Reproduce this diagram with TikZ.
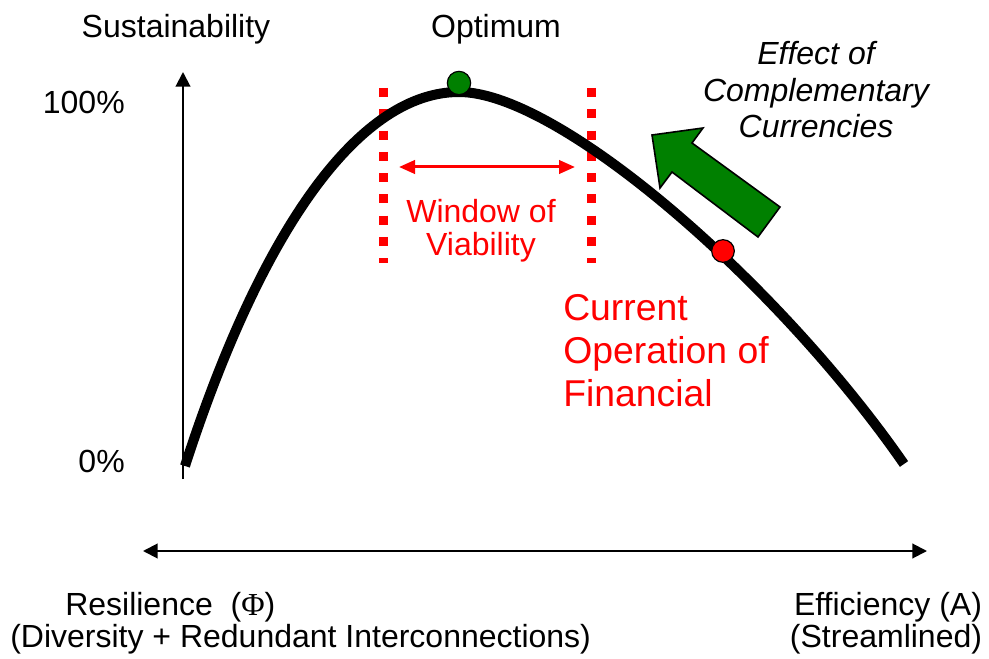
\documentclass[tikz,border=0pt]{standalone}
\usepackage{fontspec}
\setmainfont{Liberation Sans}
\newfontfamily\phifont{Liberation Serif}
\usetikzlibrary{arrows.meta}
\definecolor{dkgreen}{RGB}{0,128,0}
\definecolor{pured}{RGB}{255,0,0}
\begin{document}
\begin{tikzpicture}[x=0.75pt,y=-0.75pt,
  lbl/.style={font=\fontsize{24}{24}\selectfont, inner sep=0pt},
  axisline/.style={line width=1.5pt, -{Triangle[length=11pt,width=11pt]}},
  curveline/.style={line width=7.5pt, line cap=butt},
  vdash/.style={draw=pured, line width=6.75pt, dash pattern=on 6.75pt off 9.2pt},
  dot/.style={circle, draw=black, line width=0.9pt, minimum size=17.5pt, inner sep=0pt}]
\useasboundingbox (0,0) rectangle (989,659);
% axes
\coordinate (ybot) at (183,479);
\coordinate (ytop) at (183,72);
\draw[axisline] (ybot) -- (ytop);
\coordinate (xl) at (143,551);
\coordinate (xr) at (927,551);
\draw[line width=1.5pt, {Triangle[length=11pt,width=11pt]}-{Triangle[length=11pt,width=11pt]}] (xl) -- (xr);
% window dashed lines
\coordinate (wl1) at (383,88);
\coordinate (wl2) at (383,263);
\coordinate (wr1) at (591,88);
\coordinate (wr2) at (591,263);
\draw[vdash] (wl1) -- (wl2);
\draw[vdash] (wr1) -- (wr2);
% curve
\coordinate (c0) at (185,466);
\coordinate (cp) at (459,92);
\coordinate (c1) at (904,464);
\draw[curveline] (c0) .. controls (264,222) and (362,92) .. (cp)
                      .. controls (560,92) and (780,285) .. (c1);
% window arrow
\coordinate (al) at (399,167);
\coordinate (ar) at (575,167);
\draw[pured, line width=2.25pt, {Triangle[length=12pt,width=10pt]}-{Triangle[length=12pt,width=10pt]}] (al) -- (ar);
% dots
\node[dot, fill=dkgreen] (opt) at (459,83) {};
\node[dot, fill=pured, minimum size=17pt] (cur) at (723,251) {};
% green arrow
\draw[fill=dkgreen, draw=black, line width=1.2pt, line join=miter]
  (652,135) -- (703,128) -- (692,143) -- (780,207) -- (758,237) -- (672,172) -- (660,188) -- cycle;
% labels
\node[lbl] (sus) at (176,29) {Sustainability};
\node[lbl] (optl) at (496,29) {Optimum};
\node[lbl, anchor=east] (p100) at (125,102) {100\%};
\node[lbl, anchor=east] (p0) at (125,461) {0\%};
\node[lbl, text=pured, align=center, font=\fontsize{24}{24.75}\selectfont] (win) at (481,231) {Window of\\Viability};
\node[lbl, text=pured, align=left, anchor=west, font=\fontsize{28}{32.25}\selectfont] (curop) at (563,351) {Current\\Operation of\\Financial};
\node[lbl, align=center, font=\fontsize{24}{27.4}\selectfont\itshape] (eff) at (816,90) {Effect of\\Complementary\\Currencies};
\node[lbl, anchor=west] (res1) at (65,607) {Resilience \ ({\phifont Φ})};
\node[lbl, anchor=west] (res2) at (10,639) {(Diversity + Redundant Interconnections)};
\node[lbl] (eff1) at (888,607) {Efficiency (A)};
\node[lbl] (eff2) at (886,639) {(Streamlined)};
\end{tikzpicture}
\end{document}
